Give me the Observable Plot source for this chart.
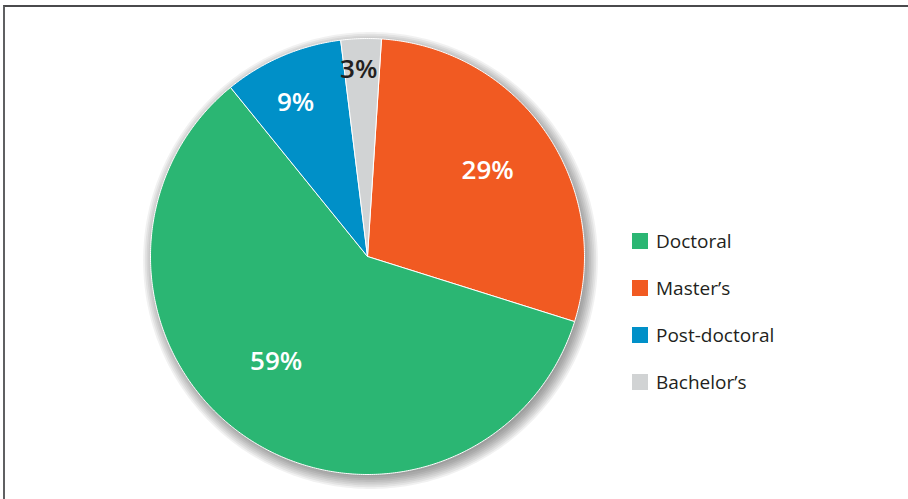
<!DOCTYPE html>
<html><head><meta charset="utf-8">
<script src="https://cdn.jsdelivr.net/npm/d3@7"></script>
<script src="https://cdn.jsdelivr.net/npm/@observablehq/plot@0.6"></script>
<style>
body{margin:0;background:#fff;}
#wrap{position:relative;width:908px;height:499px;overflow:hidden;font-family:"Open Sans",sans-serif;background:#fff;}
#frame{position:absolute;left:3px;top:5px;width:1000px;height:1000px;border-left:2px solid #5f6062;border-top:2px solid #4a4a4c;box-sizing:border-box;}
#chart{position:absolute;left:0;top:0;}
#legend{position:absolute;left:632px;top:217px;}
.item{display:flex;align-items:center;height:47px;font-size:19px;color:#231f20;}
.sw{width:16px;height:16px;margin-right:8px;}
</style>
</head><body>
<div id="wrap"><div id="frame"></div><div id="chart"></div><div id="legend"></div></div>
<script>
// Data, drawn clockwise starting just right of 12 o'clock
const categories = ["Master’s", "Doctoral", "Post-doctoral", "Bachelor’s"];
const shares = [28.8, 59.3, 8.9, 3.0];
const colors = ["#f15a22", "#2bb673", "#0090c8", "#d1d3d4"];
const labelInk = ["white", "white", "white", "#231f20"];
const legendOrder = ["Doctoral", "Master’s", "Post-doctoral", "Bachelor’s"];

// Layout constants
const startDeg = 3.7;
const labelRadius = [0.68, 0.64, 0.78, 0.86];
const labelShiftDeg = [-1, 7, -2, -1];

const rad = Math.PI / 180;
const arcs = d3.pie().sort(null).startAngle(startDeg * rad).endAngle(startDeg * rad + 2 * Math.PI)(shares);

const slices = [];
const labels = [];
arcs.forEach((a, i) => {
  const cat = categories[i];
  const pts = [{cat, x: 0, y: 0}];
  const n = Math.max(4, Math.ceil((a.endAngle - a.startAngle) / (0.5 * rad)));
  for (let k = 0; k <= n; k++) {
    const t = a.startAngle + (a.endAngle - a.startAngle) * k / n;
    pts.push({cat, x: Math.sin(t), y: Math.cos(t)});
  }
  pts.push({cat, x: 0, y: 0});
  slices.push({cat, color: colors[i], pts});
  const m = (a.startAngle + a.endAngle) / 2 + labelShiftDeg[i] * rad;
  labels.push({
    text: Math.round(shares[i]) + "%",
    x: Math.sin(m) * labelRadius[i],
    y: Math.cos(m) * labelRadius[i],
    ink: labelInk[i]
  });
});

// soft drop shadow: stacked translucent discs of slightly growing size
const shadowScales = [0.99, 1.0, 1.008, 1.016, 1.024, 1.032, 1.04, 1.048];
const shadow = [];
shadowScales.forEach((s, layer) => {
  for (let d = 0; d <= 360; d += 1) shadow.push({layer, x: Math.sin(d * rad) * s, y: Math.cos(d * rad) * s});
});

const chart = Plot.plot({
  width: 908,
  height: 499,
  margin: 0,
  x: {domain: [-1, 1], range: [150, 584], axis: null},
  y: {domain: [-1, 1], range: [474, 38], axis: null},
  style: {background: "transparent", fontFamily: "'Open Sans', sans-serif"},
  marks: [
    Plot.line(shadow, {x: "x", y: "y", z: "layer", fill: "#000", fillOpacity: 0.055, stroke: null, dx: 3, dy: 4}),
    ...slices.map(s => Plot.line(s.pts, {x: "x", y: "y", fill: s.color, stroke: "white", strokeWidth: 1, strokeLinejoin: "round"})),
    Plot.text(labels, {x: "x", y: "y", text: "text", fill: "white", filter: d => d.ink === "white", fontSize: 26, fontWeight: 600}),
    Plot.text(labels, {x: "x", y: "y", text: "text", fill: "#231f20", filter: d => d.ink !== "white", fontSize: 26, fontWeight: 600})
  ]
});
document.getElementById("chart").appendChild(chart);

const legend = document.getElementById("legend");
legendOrder.forEach(c => {
  const row = document.createElement("div");
  row.className = "item";
  const sw = document.createElement("div");
  sw.className = "sw";
  sw.style.background = colors[categories.indexOf(c)];
  const tx = document.createElement("span");
  tx.textContent = c;
  row.appendChild(sw);
  row.appendChild(tx);
  legend.appendChild(row);
});
</script>
</body></html>
